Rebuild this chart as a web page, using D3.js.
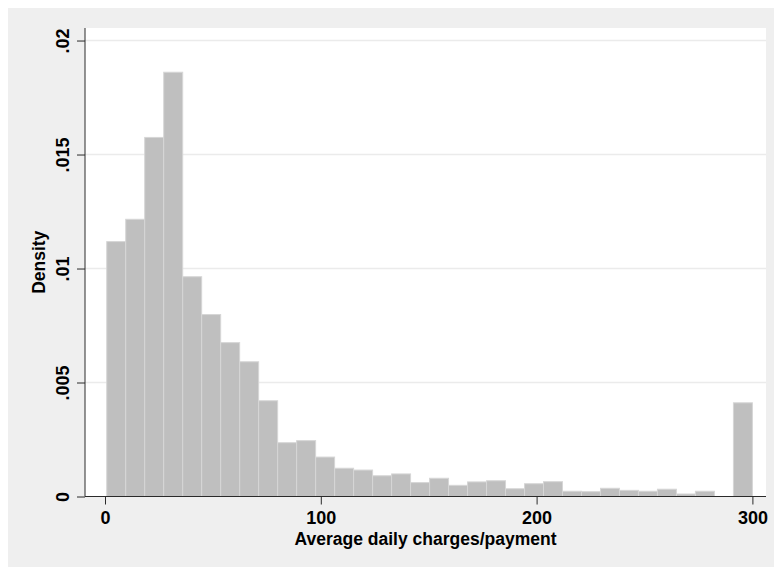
<!DOCTYPE html>
<html>
<head>
<meta charset="utf-8">
<script src="https://cdn.jsdelivr.net/npm/d3@7"></script>
<style>
  html, body { margin: 0; padding: 0; background: #fff; }
  svg { display: block; }
  text { font-family: "Liberation Sans", Arial, sans-serif; fill: #000; }
</style>
</head>
<body>
<svg id="chart" width="774" height="567"></svg>
<script>
// histogram: bins of equal width starting at binStart
const binStart = 0.8;
const binWidth = 8.8;
const densities = [
  0.01118, 0.01216, 0.01575, 0.01861, 0.00964, 0.00798, 0.00675, 0.00591,
  0.00420, 0.00236, 0.00245, 0.00173, 0.00124, 0.00116, 0.00091, 0.00099,
  0.00061, 0.00080, 0.00049, 0.00064, 0.00069, 0.00034, 0.00056, 0.00065,
  0.00023, 0.00021, 0.00036, 0.00027, 0.00023, 0.00032, 0.00011, 0.00023,
  0, 0.00411
];

const xTicks = [0, 100, 200, 300];
const yTicks = [0, 0.005, 0.01, 0.015, 0.02];
const yTickLabels = ['0', '.005', '.01', '.015', '.02'];
const xTitle = 'Average daily charges/payment';
const yTitle = 'Density';

const W = 774, H = 567;
const plot = { left: 85, right: 766, top: 28, bottom: 496.5 };

const svg = d3.select('#chart');

svg.append('rect')
  .attr('x', 8).attr('y', 8)
  .attr('width', W - 8).attr('height', H - 8)
  .attr('fill', '#efefef');

svg.append('rect')
  .attr('x', plot.left).attr('y', plot.top)
  .attr('width', plot.right - plot.left).attr('height', plot.bottom - plot.top)
  .attr('fill', '#ffffff');

const x = d3.scaleLinear().domain([-9.27, 306.3]).range([plot.left, plot.right]);
const y = d3.scaleLinear().domain([0, 0.02055]).range([plot.bottom, plot.top]);

// gridlines
svg.append('g').selectAll('line').data(yTicks.slice(1)).join('line')
  .attr('x1', plot.left).attr('x2', plot.right)
  .attr('y1', d => y(d)).attr('y2', d => y(d))
  .attr('stroke', '#ebebeb')
  .attr('stroke-width', 1.5);

const bins = densities.map((d, i) => ({
  x0: binStart + i * binWidth,
  x1: binStart + (i + 1) * binWidth,
  d
})).filter(b => b.d > 0);

svg.append('g').selectAll('rect').data(bins).join('rect')
  .attr('x', b => x(b.x0))
  .attr('y', b => y(b.d))
  .attr('width', b => x(b.x1) - x(b.x0))
  .attr('height', b => y(0) - y(b.d))
  .attr('fill', '#bfbfbf')
  .attr('stroke', '#d6d6d6')
  .attr('stroke-width', 1);

// y axis
const yAxis = svg.append('g')
  .attr('transform', `translate(${plot.left},0)`)
  .call(d3.axisLeft(y).tickValues(yTicks).tickSize(8).tickFormat((d, i) => yTickLabels[i]));
yAxis.select('.domain').attr('d', `M0,${plot.top}V${plot.bottom}`).attr('stroke', '#2a2a2a');
yAxis.selectAll('.tick line').attr('stroke', '#2a2a2a');
yAxis.selectAll('.tick text')
  .attr('x', null).attr('dy', null)
  .attr('font-size', 18)
  .attr('font-weight', 'bold')
  .attr('text-anchor', 'middle')
  .attr('transform', 'translate(-16,0) rotate(-90)')
  .attr('fill', '#000');

// x axis
const xAxis = svg.append('g')
  .attr('transform', `translate(0,${plot.bottom})`)
  .call(d3.axisBottom(x).tickValues(xTicks).tickSize(8).tickFormat(d3.format('d')));
xAxis.select('.domain').attr('d', `M${plot.left},0H${plot.right}`).attr('stroke', '#2a2a2a');
xAxis.selectAll('.tick line').attr('stroke', '#2a2a2a');
xAxis.selectAll('.tick text')
  .attr('y', 27).attr('dy', null)
  .attr('font-size', 18)
  .attr('font-weight', 'bold')
  .attr('fill', '#000');

svg.selectAll('.tick text').attr('font-family', '"Liberation Sans", Arial, sans-serif');

// titles
svg.append('text')
  .attr('x', (plot.left + plot.right) / 2)
  .attr('y', 545)
  .attr('text-anchor', 'middle')
  .attr('font-size', 17.5)
  .attr('font-weight', 'bold')
  .text(xTitle);

svg.append('text')
  .attr('transform', `translate(45,${(plot.top + plot.bottom) / 2}) rotate(-90)`)
  .attr('text-anchor', 'middle')
  .attr('font-size', 17.5)
  .attr('font-weight', 'bold')
  .text(yTitle);
</script>
</body>
</html>
